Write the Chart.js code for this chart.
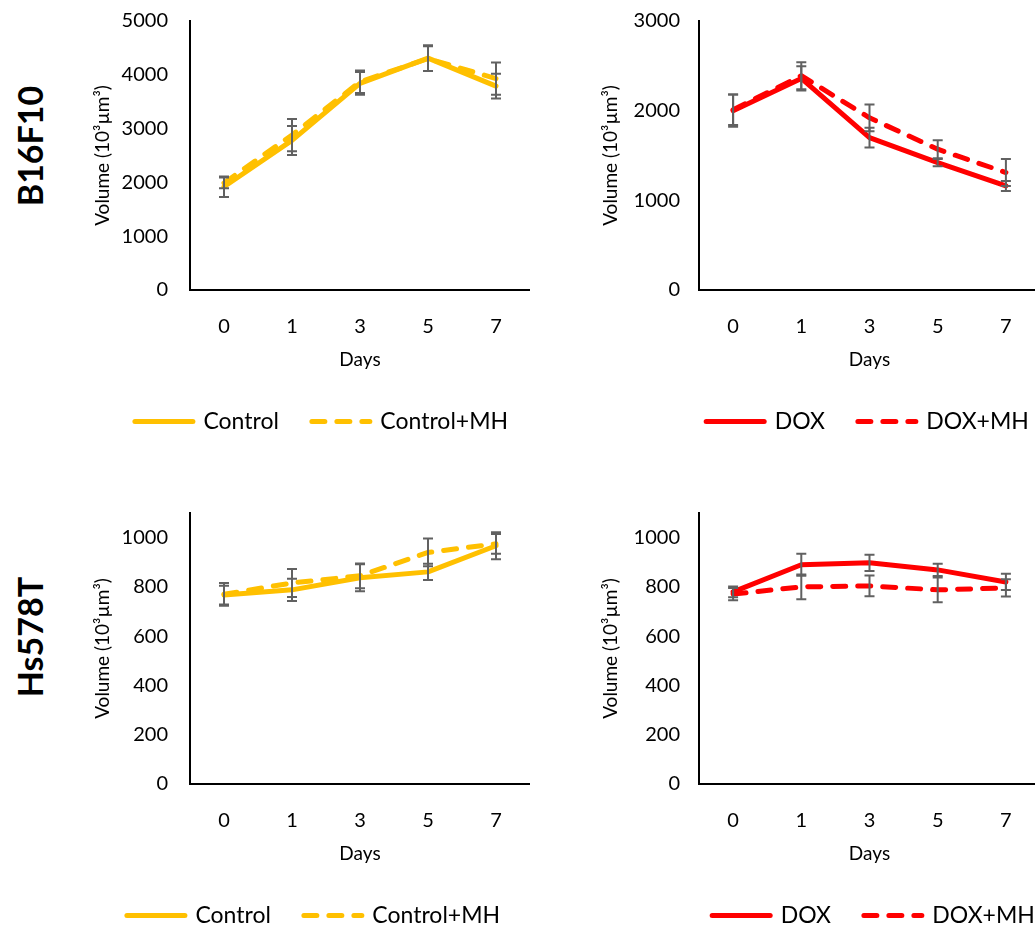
<!DOCTYPE html>
<html lang="en">
<head>
  <meta charset="UTF-8" />
  <title>Tumour volume - B16F10 / Hs578T</title>
  <script src="https://cdn.jsdelivr.net/npm/chart.js"></script>
  <style>
    html, body { margin: 0; padding: 0; background: #fff; overflow: hidden; }
    body { width: 1035px; height: 930px; position: relative; }
    canvas { position: absolute; }
    .row-label {
      position: absolute;
      font-family: Lato, sans-serif;
      font-weight: bold;
      font-size: 34px;
      color: #000;
      transform: translate(-50%, -50%) rotate(-90deg);
      white-space: nowrap;
    }
  </style>
</head>
<body>
  <div class="row-label" style="left:29px; top:146px;">B16F10</div>
  <div class="row-label" style="left:29px; top:637px;">Hs578T</div>

  <canvas id="b16ctrl" width="470" height="443" style="left:60px; top:0px;"></canvas>
  <canvas id="b16dox" width="485" height="443" style="left:560px; top:0px;"></canvas>
  <canvas id="hsctrl" width="470" height="443" style="left:60px; top:494px;"></canvas>
  <canvas id="hsdox" width="485" height="443" style="left:560px; top:494px;"></canvas>

  <script>
    // days on x axis
    const days = ['0', '1', '3', '5', '7'];

    // B16F10 - control pair
    const b16Control = [1920, 2780, 3840, 4310, 3790];
    const b16ControlErr = [190, 270, 210, 240, 230];
    const b16ControlMH = [1990, 2880, 3870, 4300, 3930];
    const b16ControlMHErr = [100, 300, 210, 230, 300];

    // B16F10 - DOX pair
    const b16Dox = [2000, 2360, 1700, 1420, 1160];
    const b16DoxErr = [180, 135, 110, 40, 55];
    const b16DoxMH = [2010, 2390, 1920, 1570, 1310];
    const b16DoxMHErr = [170, 150, 150, 100, 150];

    // Hs578T - control pair
    const hsControl = [767, 788, 837, 861, 967];
    const hsControlErr = [38, 45, 55, 33, 55];
    const hsControlMH = [770, 816, 845, 940, 975];
    const hsControlMHErr = [46, 57, 50, 56, 40];

    // Hs578T - DOX pair
    const hsDox = [780, 890, 898, 869, 820];
    const hsDoxErr = [22, 45, 33, 25, 33];
    const hsDoxMH = [771, 800, 804, 788, 796];
    const hsDoxMHErr = [25, 50, 42, 50, 35];

    const GOLD = '#FFC000';
    const RED = '#FF0000';
    const DASH = [13, 12];

    Chart.defaults.font.family = 'Lato, sans-serif';
    Chart.defaults.color = '#000';

    // whiskers drawn through the chart scales
    const errorBars = {
      id: 'errorBars',
      afterDatasetsDraw(chart) {
        const ctx = chart.ctx;
        const x = chart.scales.x, y = chart.scales.y;
        ctx.save();
        ctx.strokeStyle = '#616161';
        ctx.lineWidth = 2;
        chart.data.datasets.forEach(ds => {
          ds.errors.forEach((e, j) => {
            const px = x.getPixelForValue(j);
            const top = y.getPixelForValue(ds.data[j] + e);
            const bot = y.getPixelForValue(ds.data[j] - e);
            ctx.beginPath();
            ctx.moveTo(px, top); ctx.lineTo(px, bot);
            ctx.moveTo(px - 5, top); ctx.lineTo(px + 5, top);
            ctx.moveTo(px - 5, bot); ctx.lineTo(px + 5, bot);
            ctx.stroke();
          });
        });
        ctx.restore();
      }
    };

    // nudge the legend sideways (Excel centres it on the whole chart object)
    const shiftLegend = {
      id: 'shiftLegend',
      afterLayout(chart, args, opts) {
        if (chart.legend && opts.dx) {
          chart.legend.left += opts.dx;
          chart.legend.right += opts.dx;
        }
      },
      // legend line samples, with the dataset's dash pattern
      afterDraw(chart) {
        const lg = chart.legend;
        if (!lg || !lg.legendHitBoxes) return;
        const ctx = chart.ctx;
        ctx.save();
        lg.legendHitBoxes.forEach((hb, i) => {
          const ds = chart.data.datasets[i];
          const yy = hb.top + hb.height / 2;
          ctx.strokeStyle = ds.borderColor;
          ctx.lineWidth = ds.borderWidth;
          ctx.lineCap = 'round';
          ctx.setLineDash(ds.borderDash || []);
          ctx.beginPath();
          ctx.moveTo(hb.left + 3, yy);
          ctx.lineTo(hb.left + 61, yy);
          ctx.stroke();
        });
        ctx.restore();
      }
    };

    function makeChart(id, cfg) {
      new Chart(document.getElementById(id), {
        type: 'line',
        data: {
          labels: days,
          datasets: [
            {
              label: cfg.names[0], data: cfg.a, errors: cfg.aErr,
              borderColor: cfg.color, backgroundColor: cfg.color,
              borderWidth: 5, pointRadius: 0, tension: 0,
              borderCapStyle: 'round', borderJoinStyle: 'round'
            },
            {
              label: cfg.names[1], data: cfg.b, errors: cfg.bErr,
              borderColor: cfg.color, backgroundColor: cfg.color,
              borderWidth: 5, pointRadius: 0, tension: 0, borderDash: DASH,
              borderCapStyle: 'round', borderJoinStyle: 'round'
            }
          ]
        },
        options: {
          responsive: false,
          animation: false,
          layout: { padding: { top: cfg.padTop, right: cfg.padRight, left: 0, bottom: 0 } },
          plugins: {
            title: { display: false },
            tooltip: { enabled: false },
            shiftLegend: { dx: cfg.legendDx },
            legend: {
              position: 'bottom',
              labels: {
                usePointStyle: true,
                pointStyle: 'line',
                pointStyleWidth: 60,
                padding: 30,
                font: { size: 23 },
                color: '#000',
                generateLabels: chart =>
                  Chart.defaults.plugins.legend.labels.generateLabels(chart).map(it =>
                    Object.assign(it, { strokeStyle: 'rgba(0,0,0,0)', lineWidth: 0 }))
              }
            }
          },
          scales: {
            x: {
              offset: true,
              grid: { display: false, drawTicks: false },
              border: { display: true, color: '#000', width: 2 },
              ticks: { padding: 25, font: { size: 20 } },
              title: { display: true, text: 'Days', font: { size: 19 }, padding: { top: 0, bottom: 9 } },
              afterFit: s => { s.height = 90; }
            },
            y: {
              min: 0, max: cfg.yMax,
              grid: { display: false, drawTicks: false },
              border: { display: true, color: '#000', width: 2 },
              ticks: {
                stepSize: cfg.step, padding: cfg.tickPad, includeBounds: false,
                font: { size: 20 }, callback: v => String(v)
              },
              title: { display: true, text: 'Volume (10³µm³)', font: { size: 19 }, padding: { top: cfg.titlePad, bottom: 0 } },
              afterFit: s => { s.width = cfg.axisW; s.paddingTop = 0; }
            }
          }
        },
        plugins: [errorBars, shiftLegend]
      });
    }

    makeChart('b16ctrl', {
      names: ['Control', 'Control+MH'], color: GOLD,
      a: b16Control, aErr: b16ControlErr, b: b16ControlMH, bErr: b16ControlMHErr,
      yMax: 5000, step: 1000, padTop: 21, padRight: 0,
      axisW: 130, titlePad: 31, tickPad: 22, legendDx: 25
    });
    makeChart('b16dox', {
      names: ['DOX', 'DOX+MH'], color: RED,
      a: b16Dox, aErr: b16DoxErr, b: b16DoxMH, bErr: b16DoxMHErr,
      yMax: 3000, step: 1000, padTop: 21, padRight: 5,
      axisW: 139, titlePad: 39, tickPad: 19, legendDx: 66
    });
    makeChart('hsctrl', {
      names: ['Control', 'Control+MH'], color: GOLD,
      a: hsControl, aErr: hsControlErr, b: hsControlMH, bErr: hsControlMHErr,
      yMax: 1100, step: 200, padTop: 19, padRight: 0,
      axisW: 130, titlePad: 31, tickPad: 22, legendDx: 17
    });
    makeChart('hsdox', {
      names: ['DOX', 'DOX+MH'], color: RED,
      a: hsDox, aErr: hsDoxErr, b: hsDoxMH, bErr: hsDoxMHErr,
      yMax: 1100, step: 200, padTop: 19, padRight: 5,
      axisW: 139, titlePad: 39, tickPad: 19, legendDx: 72
    });
  </script>
</body>
</html>
